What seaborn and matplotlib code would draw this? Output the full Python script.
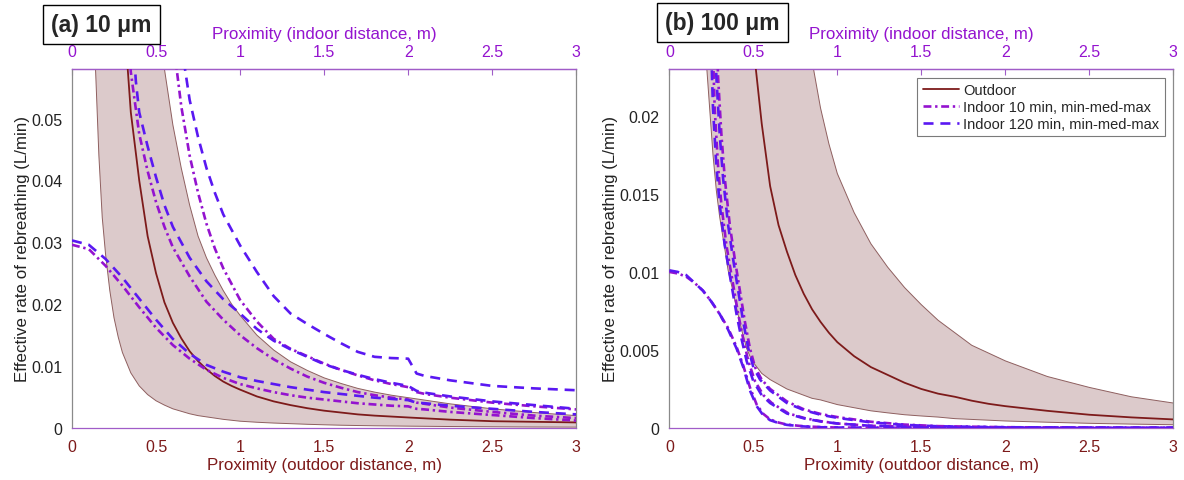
import numpy as np
import pandas as pd
import matplotlib
matplotlib.use("Agg")
import matplotlib.pyplot as plt
import seaborn as sns
from matplotlib.lines import Line2D

# ---------------- data ----------------
# Panel (a): 10 um droplets -- outdoor band (low / median / high) on outdoor distance
a_out_x = [0.12, 0.14, 0.16, 0.18, 0.20, 0.225, 0.25, 0.275, 0.30, 0.35, 0.40, 0.45, 0.50,
           0.55, 0.60, 0.65, 0.70, 0.75, 0.80, 0.85, 0.90, 0.95, 1.0, 1.1, 1.2, 1.3, 1.4, 1.5,
           1.6, 1.7, 1.8, 1.9, 2.0, 2.25, 2.5, 2.75, 3.0]
a_out_lo = [0.077, 0.058, 0.044, 0.034, 0.028, 0.0222, 0.0178, 0.0147, 0.0122, 0.0089, 0.0068,
            0.0054, 0.0044, 0.0037, 0.0031, 0.0027, 0.0023, 0.0020, 0.0018, 0.0016, 0.0014,
            0.00125, 0.0011, 0.00093, 0.0008, 0.0007, 0.0006, 0.00052, 0.00045, 0.0004,
            0.00036, 0.00033, 0.0003, 0.00024, 0.0002, 0.00016, 0.00014]
a_out_med = [0.43, 0.32, 0.24, 0.19, 0.155, 0.122, 0.099, 0.082, 0.070, 0.051, 0.040, 0.031,
             0.025, 0.0203, 0.0170, 0.0145, 0.0124, 0.0108, 0.0095, 0.0084, 0.0075, 0.0068,
             0.0062, 0.0051, 0.0043, 0.0037, 0.0032, 0.0028, 0.0025, 0.0022, 0.0020, 0.00185,
             0.0017, 0.00135, 0.0011, 0.0010, 0.0009]
a_out_hi = [1.25, 0.92, 0.70, 0.56, 0.45, 0.36, 0.29, 0.24, 0.20, 0.147, 0.113, 0.089, 0.072,
            0.058, 0.049, 0.042, 0.036, 0.031, 0.0275, 0.0247, 0.0222, 0.0200, 0.0182, 0.0150,
            0.0126, 0.0107, 0.0093, 0.0081, 0.0072, 0.0064, 0.0058, 0.0053, 0.0049, 0.0039,
            0.0031, 0.0025, 0.0020]

# Panel (a): indoor curves on indoor distance
a_low_x = [0, 0.1, 0.2, 0.3, 0.4, 0.5, 0.6, 0.7, 0.8, 0.9, 1.0, 1.1, 1.2, 1.3, 1.4, 1.5, 1.6,
           1.7, 1.8, 1.9, 2.0, 2.05, 2.1, 2.25, 2.5, 2.75, 3.0]
a_in10_min = [0.0296, 0.0289, 0.0262, 0.0230, 0.0195, 0.0162, 0.0134, 0.0112, 0.0094, 0.0081,
              0.0071, 0.0064, 0.0058, 0.0053, 0.0049, 0.0046, 0.0043, 0.0040, 0.0038, 0.0036,
              0.0035, 0.0031, 0.0030, 0.0026, 0.0021, 0.0016, 0.0012]
a_in120_min = [0.0303, 0.0296, 0.0273, 0.0243, 0.0209, 0.0175, 0.0144, 0.0120, 0.0102, 0.0091,
               0.0082, 0.0076, 0.0071, 0.0066, 0.0062, 0.0058, 0.0055, 0.0052, 0.0049, 0.0047,
               0.0045, 0.0041, 0.0040, 0.0036, 0.0031, 0.0026, 0.0022]

a_in10_med_x = [0.33, 0.35, 0.40, 0.45, 0.50, 0.55, 0.60, 0.70, 0.80, 0.90, 1.0, 1.1, 1.2, 1.3,
                1.4, 1.5, 1.6, 1.7, 1.8, 1.9, 2.0, 2.05, 2.1, 2.25, 2.5, 2.75, 3.0]
a_in10_med = [0.064, 0.0575, 0.0475, 0.0415, 0.0365, 0.0325, 0.0292, 0.0245, 0.0204, 0.0175,
              0.0150, 0.0129, 0.0111, 0.0096, 0.0083, 0.0073, 0.0065, 0.0058, 0.0053, 0.0049,
              0.0046, 0.0041, 0.0039, 0.0033, 0.0026, 0.0020, 0.0016]

a_in120_med_x = [0.35, 0.38, 0.40, 0.45, 0.50, 0.55, 0.60, 0.66, 0.70, 0.80, 0.90, 1.0, 1.1, 1.2,
                 1.3, 1.4, 1.5, 1.6, 1.7, 1.8, 1.9, 2.0, 2.05, 2.1, 2.25, 2.5, 2.75, 3.0]
a_in120_med = [0.068, 0.056, 0.051, 0.0455, 0.0405, 0.0360, 0.0325, 0.0295, 0.0275, 0.0237,
               0.0208, 0.0185, 0.0160, 0.0141, 0.0127, 0.0115, 0.0103, 0.0094, 0.0086, 0.0079,
               0.0073, 0.0068, 0.0060, 0.0057, 0.0051, 0.0043, 0.0037, 0.0031]

a_in10_max_x = [0.60, 0.65, 0.70, 0.75, 0.80, 0.85, 0.90, 1.0, 1.1, 1.2, 1.3, 1.4, 1.5, 1.6,
                1.7, 1.8, 1.9, 2.0, 2.05, 2.1, 2.25, 2.5, 2.75, 3.0]
a_in10_max = [0.063, 0.052, 0.044, 0.038, 0.033, 0.029, 0.0258, 0.0207, 0.0172, 0.0144, 0.0128,
              0.0116, 0.0104, 0.0094, 0.0085, 0.0077, 0.0071, 0.0066, 0.0058, 0.0055, 0.0049,
              0.0041, 0.0035, 0.0030]

a_in120_max_x = [0.65, 0.70, 0.75, 0.80, 0.85, 0.90, 1.0, 1.1, 1.2, 1.3, 1.4, 1.5, 1.6, 1.7,
                 1.8, 1.9, 2.0, 2.05, 2.1, 2.25, 2.5, 2.75, 3.0]
a_in120_max = [0.062, 0.053, 0.047, 0.042, 0.038, 0.0345, 0.0295, 0.0252, 0.0213, 0.0185, 0.0168,
               0.0152, 0.0137, 0.0123, 0.0115, 0.0113, 0.0112, 0.0088, 0.0084, 0.0077, 0.0068,
               0.0064, 0.0061]

# Panel (b): 100 um droplets -- outdoor band
b_out_x = [0.21, 0.22, 0.24, 0.26, 0.28, 0.30, 0.33, 0.35, 0.38, 0.40, 0.43, 0.46, 0.48, 0.50,
           0.55, 0.60, 0.65, 0.70, 0.75, 0.80, 0.85, 0.90, 0.95, 1.0, 1.1, 1.2, 1.3, 1.4, 1.5,
           1.6, 1.7, 1.8, 1.9, 2.0, 2.25, 2.5, 2.75, 3.0]
b_out_lo = [0.0265, 0.0235, 0.0205, 0.0175, 0.0152, 0.0135, 0.0115, 0.0101, 0.0087, 0.0077,
            0.0063, 0.0051, 0.0046, 0.0042, 0.0035, 0.0031, 0.0028, 0.0025, 0.0023, 0.0021,
            0.0019, 0.0018, 0.00165, 0.0015, 0.0013, 0.0011, 0.00097, 0.00085, 0.00077,
            0.0007, 0.0006, 0.00055, 0.0005, 0.00045, 0.00037, 0.0003, 0.00025, 0.00021]
b_out_med = [0.14, 0.125, 0.105, 0.090, 0.078, 0.068, 0.056, 0.050, 0.042, 0.038, 0.033, 0.029,
             0.0268, 0.0245, 0.0195, 0.0155, 0.0130, 0.0113, 0.0098, 0.0086, 0.0076, 0.0068,
             0.0061, 0.0055, 0.0046, 0.0039, 0.0034, 0.0029, 0.0025, 0.0022, 0.0020, 0.00175,
             0.00155, 0.0014, 0.0011, 0.00085, 0.00068, 0.00055]
b_out_hi = [0.38, 0.35, 0.29, 0.25, 0.22, 0.19, 0.16, 0.14, 0.12, 0.11, 0.093, 0.082, 0.075,
            0.069, 0.057, 0.048, 0.041, 0.035, 0.031, 0.027, 0.0235, 0.0205, 0.0182, 0.0163,
            0.0138, 0.0118, 0.0103, 0.0090, 0.0079, 0.0069, 0.0061, 0.0053, 0.0048, 0.0043,
            0.0033, 0.0026, 0.0020, 0.0016]

# Panel (b): indoor curves
b_low_x = [0, 0.05, 0.1, 0.15, 0.2, 0.25, 0.3, 0.35, 0.4, 0.44, 0.48, 0.52, 0.56, 0.6, 0.65,
           0.7, 0.8, 0.9, 1.0, 1.5, 2.0, 2.5, 3.0]
b_in120_min = [0.0101, 0.0100, 0.0098, 0.0093, 0.0088, 0.0081, 0.0073, 0.0063, 0.0051, 0.0039,
               0.0024, 0.0014, 0.0008, 0.0005, 0.00032, 0.0002, 0.0001, 0.00005, 0.00003,
               0.00001, 0.0, 0.0, 0.0]
b_in10_min = [0.0100, 0.0099, 0.0097, 0.0093, 0.0088, 0.0081, 0.0073, 0.0064, 0.0052, 0.0040,
              0.0026, 0.0015, 0.0009, 0.00055, 0.00035, 0.00022, 0.00011, 0.00006, 0.00003,
              0.00001, 0.0, 0.0, 0.0]

b_in120_med_x = [0.25, 0.26, 0.28, 0.30, 0.33, 0.36, 0.40, 0.43, 0.46, 0.50, 0.55, 0.60, 0.70,
                 0.80, 0.90, 1.0, 1.2, 1.5, 2.0, 2.5, 3.0]
b_in120_med = [0.024, 0.0205, 0.0168, 0.0143, 0.0117, 0.0098, 0.0073, 0.0057, 0.0043, 0.0030,
               0.0021, 0.0016, 0.00093, 0.00062, 0.00042, 0.00029, 0.00014, 0.00006, 0.00003,
               0.00002, 0.00001]
b_in10_med_x = [0.26, 0.27, 0.29, 0.31, 0.34, 0.37, 0.41, 0.44, 0.47, 0.51, 0.56, 0.61, 0.71,
                0.81, 0.91, 1.0, 1.2, 1.5, 2.0, 2.5, 3.0]
b_in10_med = [0.024, 0.0205, 0.0168, 0.0143, 0.0117, 0.0098, 0.0073, 0.0057, 0.0043, 0.0030,
              0.0021, 0.0016, 0.00093, 0.00062, 0.00042, 0.00029, 0.00014, 0.00006, 0.00003,
              0.00002, 0.00001]

b_in120_max_x = [0.27, 0.28, 0.30, 0.32, 0.35, 0.38, 0.41, 0.44, 0.47, 0.50, 0.54, 0.60, 0.70,
                 0.80, 0.90, 1.0, 1.2, 1.4, 1.6, 2.0, 2.5, 3.0]
b_in120_max = [0.026, 0.0225, 0.0188, 0.0160, 0.0130, 0.0108, 0.0088, 0.0068, 0.0051, 0.0039,
               0.0031, 0.0024, 0.0016, 0.00115, 0.00085, 0.00065, 0.00036, 0.0002, 0.00011,
               0.00005, 0.00002, 0.00001]
b_in10_max_x = [0.28, 0.29, 0.31, 0.33, 0.36, 0.39, 0.42, 0.45, 0.48, 0.51, 0.55, 0.60, 0.70,
                0.80, 0.90, 1.0, 1.2, 1.4, 1.6, 2.0, 2.5, 3.0]
b_in10_max = [0.026, 0.0225, 0.0188, 0.0160, 0.0130, 0.0108, 0.0088, 0.0068, 0.0051, 0.0039,
              0.0031, 0.0025, 0.0017, 0.0012, 0.0009, 0.0007, 0.0004, 0.00022, 0.00012,
              0.00005, 0.00002, 0.00001]

x_ticks = [0, 0.5, 1, 1.5, 2, 2.5, 3]
a_yticks = [0, 0.01, 0.02, 0.03, 0.04, 0.05]
b_yticks = [0, 0.005, 0.01, 0.015, 0.02]

series_names = ["Indoor 10 min, min-med-max", "Indoor 120 min, min-med-max"]

# ---------------- style ----------------
sns.set_style("white")
plt.rcParams["font.family"] = ["Liberation Sans", "DejaVu Sans"]

DARKRED = "#7d1a1a"
BAND_FILL = "#dccacb"
BAND_EDGE = "#8e5f5f"
PURPLE = "#9413cf"
BLUE = "#5a18f2"
AXPURPLE = "#a05cc8"
GREY = "#8a8a8a"

palette = {series_names[0]: PURPLE, series_names[1]: BLUE}
dashes = {series_names[0]: (3.0, 1.4, 0.9, 1.4), series_names[1]: (3.8, 2.6)}
IN_LW = 1.9


def indoor_frame(curves):
    rows = []
    for series, level, xs, ys in curves:
        for xv, yv in zip(xs, ys):
            rows.append({"x": xv, "y": yv, "series": series, "level": level})
    return pd.DataFrame(rows)


a_indoor = indoor_frame([
    (series_names[0], "min", a_low_x, a_in10_min),
    (series_names[0], "med", a_in10_med_x, a_in10_med),
    (series_names[0], "max", a_in10_max_x, a_in10_max),
    (series_names[1], "min", a_low_x, a_in120_min),
    (series_names[1], "med", a_in120_med_x, a_in120_med),
    (series_names[1], "max", a_in120_max_x, a_in120_max),
])
b_indoor = indoor_frame([
    (series_names[0], "min", b_low_x, b_in10_min),
    (series_names[0], "med", b_in10_med_x, b_in10_med),
    (series_names[0], "max", b_in10_max_x, b_in10_max),
    (series_names[1], "min", b_low_x, b_in120_min),
    (series_names[1], "med", b_in120_med_x, b_in120_med),
    (series_names[1], "max", b_in120_max_x, b_in120_max),
])

fig = plt.figure(figsize=(11.84, 4.81), dpi=100)
ax_a = fig.add_axes([0.0608, 0.1081, 0.4259, 0.7464])
ax_b = fig.add_axes([0.5653, 0.1081, 0.4257, 0.7464])


def draw_panel(ax, out_x, lo, med, hi, indoor, ylim, yticks):
    ax.fill_between(out_x, lo, hi, color=BAND_FILL, lw=0, zorder=1)
    ax.plot(out_x, lo, color=BAND_EDGE, lw=0.7, zorder=2)
    ax.plot(out_x, hi, color=BAND_EDGE, lw=0.7, zorder=2)
    sns.lineplot(x=out_x, y=med, color=DARKRED, lw=1.3, ax=ax, zorder=3, legend=False)
    sns.lineplot(data=indoor, x="x", y="y", hue="series", style="series", units="level",
                 estimator=None, sort=False, palette=palette, dashes=dashes, lw=IN_LW,
                 ax=ax, legend=False, zorder=4)

    ax.set_xlim(0, 3)
    ax.set_ylim(0, ylim)
    ax.set_xticks(x_ticks)
    ax.set_xticklabels([f"{v:g}" for v in x_ticks])
    ax.set_yticks(yticks)
    ax.set_yticklabels([f"{v:g}" for v in yticks])

    ax.tick_params(axis="x", direction="in", length=4, width=0.8, color=AXPURPLE,
                   labelcolor=DARKRED, labelsize=11.5, pad=8)
    ax.tick_params(axis="y", direction="out", length=4, width=0.8, color=GREY,
                   labelcolor="#222222", labelsize=11.5, pad=3)
    for side in ("left", "right"):
        ax.spines[side].set_color(GREY)
        ax.spines[side].set_linewidth(0.9)
    for side in ("top", "bottom"):
        ax.spines[side].set_color(AXPURPLE)
        ax.spines[side].set_linewidth(0.9)

    ax.set_xlabel("Proximity (outdoor distance, m)", color=DARKRED, fontsize=12.2, labelpad=2)
    ax.set_ylabel("Effective rate of rebreathing (L/min)", color="#222222", fontsize=12.2,
                  labelpad=1)

    top = ax.secondary_xaxis("top")
    top.set_xticks(x_ticks)
    top.set_xticklabels([f"{v:g}" for v in x_ticks])
    top.tick_params(direction="in", length=4, width=0.8, color=AXPURPLE,
                    labelcolor=PURPLE, labelsize=11.5, pad=7.5)
    top.spines["top"].set_color(AXPURPLE)
    top.spines["top"].set_linewidth(0.9)
    top.set_xlabel("Proximity (indoor distance, m)", color=PURPLE, fontsize=12.2, labelpad=4)


draw_panel(ax_a, a_out_x, a_out_lo, a_out_med, a_out_hi, a_indoor, 0.058, a_yticks)
draw_panel(ax_b, b_out_x, b_out_lo, b_out_med, b_out_hi, b_indoor, 0.023, b_yticks)

handles = [
    Line2D([], [], color=DARKRED, lw=1.3),
    Line2D([], [], color=PURPLE, lw=IN_LW, dashes=dashes[series_names[0]]),
    Line2D([], [], color=BLUE, lw=IN_LW, dashes=dashes[series_names[1]]),
]
leg = ax_b.legend(handles, ["Outdoor"] + series_names, loc="upper right", fontsize=10.5,
                  frameon=True, fancybox=False, edgecolor="#7a7a7a", framealpha=1,
                  handlelength=2.5, handletextpad=0.3, borderpad=0.35, labelspacing=0.2,
                  borderaxespad=0.6)
leg.get_frame().set_linewidth(0.8)

box = dict(boxstyle="square,pad=0.35", fc="white", ec="black", lw=1.0)
fig.text(0.0857, 0.947, "(a) 10 \u03bcm", fontsize=16.5, fontweight="bold",
         ha="center", va="center", bbox=box)
fig.text(0.6102, 0.9505, "(b) 100 \u03bcm", fontsize=16.5, fontweight="bold",
         ha="center", va="center", bbox=box)

fig.savefig("out.png", dpi=100)
